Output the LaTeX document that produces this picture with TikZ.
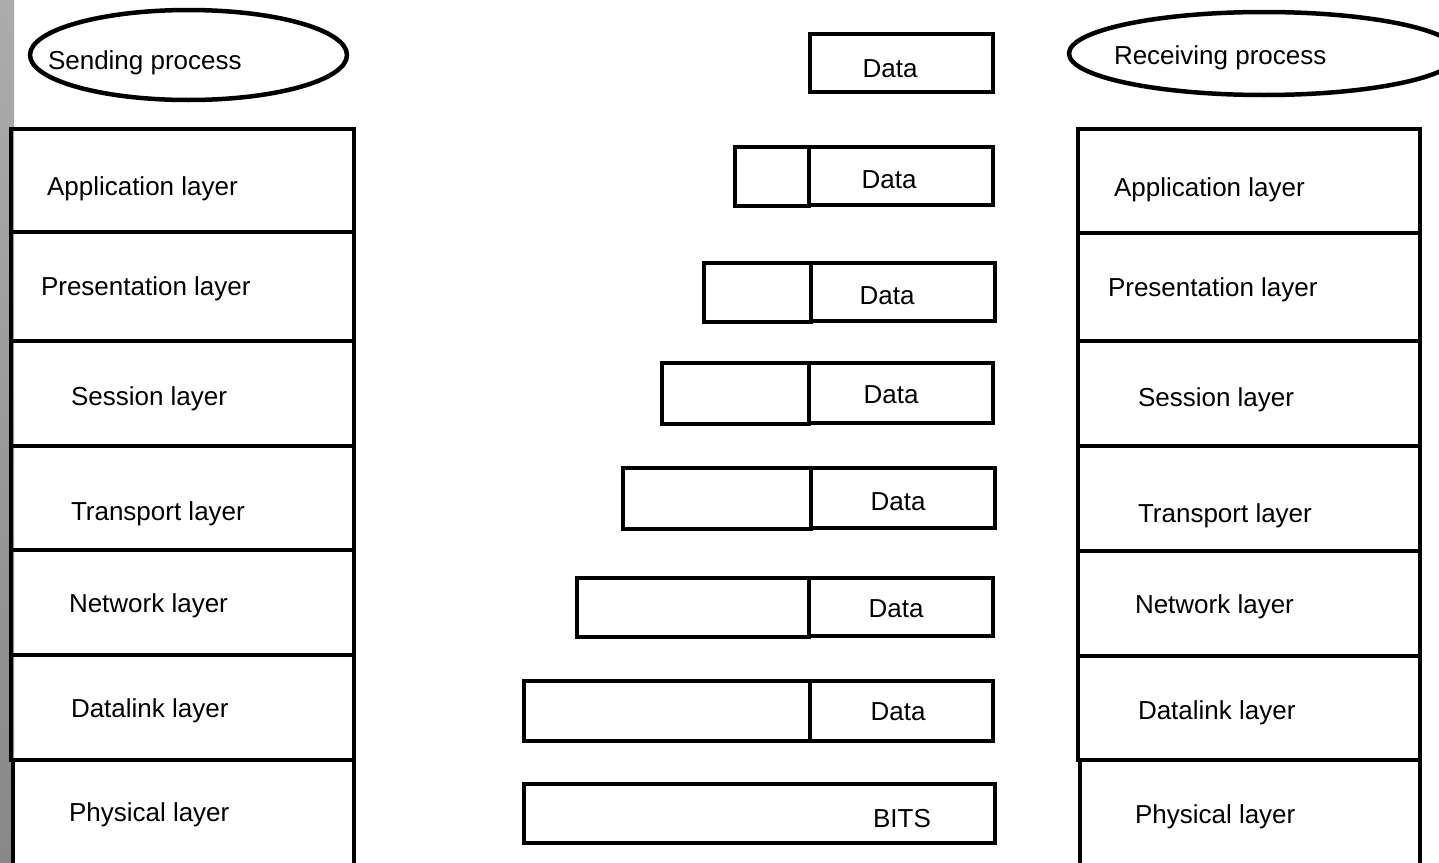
\documentclass[tikz,border=0pt]{standalone}
\usepackage{fontspec}
\setmainfont{Liberation Sans}
\usetikzlibrary{shapes.geometric}
\definecolor{stripTop}{RGB}{172,172,172}
\definecolor{stripBot}{RGB}{136,136,136}
\begin{document}
\begin{tikzpicture}[x=1pt,y=-1pt,
  every node/.style={inner sep=0pt, outer sep=0pt},
  box/.style={draw=black, line width=4.5pt, rectangle, anchor=north west},
  proc/.style={draw=black, line width=4.5pt, ellipse},
  lbl/.style={anchor=base west, font=\fontsize{26}{30}\selectfont},
  dlbl/.style={anchor=base, font=\fontsize{26}{30}\selectfont}]
\useasboundingbox (0,0) rectangle (1439,862);
\clip (0,0) rectangle (1439,862);
% grey strip on the left edge
\shade[top color=stripTop, bottom color=stripBot] (0,0) rectangle (14,862);

% processes
\node[proc, minimum width=317pt, minimum height=90pt] (send) at (188.5,55) {};
\node[lbl] (sendt) at (48,69) {Sending process};
\node[proc, minimum width=390pt, minimum height=83pt] (recv) at (1264,53.5) {};
\node[lbl] (recvt) at (1114,64) {Receiving process};

% left stack
\node[box, minimum width=343pt, minimum height=103pt] (l1) at (11,129) {};
\node[box, minimum width=343pt, minimum height=109pt] (l2) at (11,232) {};
\node[box, minimum width=343pt, minimum height=105pt] (l3) at (11,341) {};
\node[box, minimum width=343pt, minimum height=104pt] (l4) at (11,446) {};
\node[box, minimum width=343pt, minimum height=105pt] (l5) at (11,550) {};
\node[box, minimum width=343pt, minimum height=105pt] (l6) at (11,655) {};
\node[box, minimum width=341pt, minimum height=120pt] (l7) at (13,760) {};
\node[lbl] (l1t) at (47,195) {Application layer};
\node[lbl] (l2t) at (41,295) {Presentation layer};
\node[lbl] (l3t) at (71,405) {Session layer};
\node[lbl] (l4t) at (71,520) {Transport layer};
\node[lbl] (l5t) at (69,612) {Network layer};
\node[lbl] (l6t) at (71,717) {Datalink layer};
\node[lbl] (l7t) at (69,821) {Physical layer};

% right stack
\node[box, minimum width=342pt, minimum height=104pt] (r1) at (1078,129) {};
\node[box, minimum width=342pt, minimum height=108pt] (r2) at (1078,233) {};
\node[box, minimum width=342pt, minimum height=105pt] (r3) at (1078,341) {};
\node[box, minimum width=342pt, minimum height=105pt] (r4) at (1078,446) {};
\node[box, minimum width=342pt, minimum height=105pt] (r5) at (1078,551) {};
\node[box, minimum width=342pt, minimum height=104pt] (r6) at (1078,656) {};
\node[box, minimum width=340pt, minimum height=120pt] (r7) at (1080,760) {};
\node[lbl] (r1t) at (1114,196) {Application layer};
\node[lbl] (r2t) at (1108,296) {Presentation layer};
\node[lbl] (r3t) at (1138,406) {Session layer};
\node[lbl] (r4t) at (1138,522) {Transport layer};
\node[lbl] (r5t) at (1135,613) {Network layer};
\node[lbl] (r6t) at (1138,719) {Datalink layer};
\node[lbl] (r7t) at (1135,823) {Physical layer};

% middle: encapsulated data units
\node[box, minimum width=183pt, minimum height=58pt] (d1) at (810,34) {};
\node[box, minimum width=74pt, minimum height=59pt] (h2) at (735,147) {};
\node[box, minimum width=184pt, minimum height=58pt] (d2) at (809,147) {};
\node[box, minimum width=107pt, minimum height=59pt] (h3) at (704,263) {};
\node[box, minimum width=184pt, minimum height=58pt] (d3) at (811,263) {};
\node[box, minimum width=147pt, minimum height=61pt] (h4) at (662,363) {};
\node[box, minimum width=184pt, minimum height=60pt] (d4) at (809,363) {};
\node[box, minimum width=188pt, minimum height=61pt] (h5) at (623,468) {};
\node[box, minimum width=184pt, minimum height=60pt] (d5) at (811,468) {};
\node[box, minimum width=232pt, minimum height=59pt] (h6) at (577,578) {};
\node[box, minimum width=184pt, minimum height=58pt] (d6) at (809,578) {};
\node[box, minimum width=286pt, minimum height=60pt] (h7) at (524,681) {};
\node[box, minimum width=183pt, minimum height=60pt] (d7) at (810,681) {};
\node[box, minimum width=471pt, minimum height=59pt] (bits) at (524,784) {};

\node[dlbl] (d1t) at (890,77) {Data};
\node[dlbl] (d2t) at (889,188) {Data};
\node[dlbl] (d3t) at (887,304) {Data};
\node[dlbl] (d4t) at (891,403) {Data};
\node[dlbl] (d5t) at (898,510) {Data};
\node[dlbl] (d6t) at (896,617) {Data};
\node[dlbl] (d7t) at (898,720) {Data};
\node[dlbl] (bitst) at (902,827) {BITS};
\end{tikzpicture}
\end{document}
